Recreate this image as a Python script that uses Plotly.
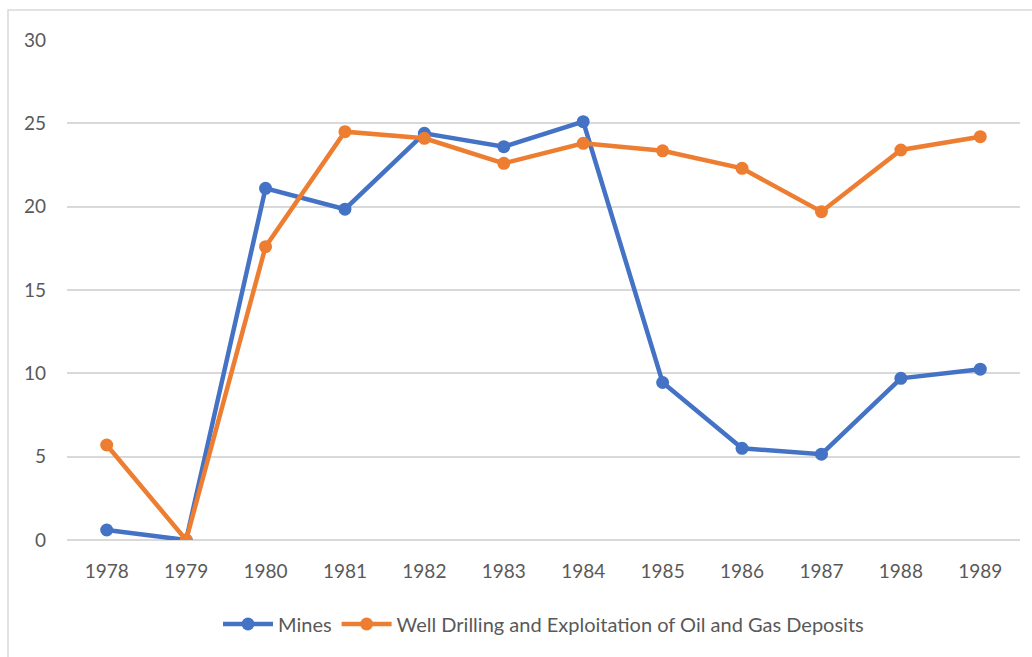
import plotly.graph_objects as go

years = ["1978", "1979", "1980", "1981", "1982", "1983", "1984", "1985", "1986", "1987", "1988", "1989"]
mines = [0.6, 0.0, 21.1, 19.85, 24.4, 23.6, 25.1, 9.45, 5.5, 5.15, 9.7, 10.25]
wells = [5.7, 0.0, 17.6, 24.5, 24.1, 22.6, 23.8, 23.35, 22.3, 19.7, 23.4, 24.2]

W, H = 1032, 657
L, R, T, B = 67, 12, 40, 117
pw, ph = W - L - R, H - T - B

fig = go.Figure()
fig.add_trace(go.Scatter(x=years, y=mines, name="Mines", mode="lines+markers",
                         line=dict(color="#4472C4", width=4.5), marker=dict(size=13, color="#4472C4")))
fig.add_trace(go.Scatter(x=years, y=wells, name="Well Drilling and Exploitation of Oil and Gas Deposits",
                         mode="lines+markers",
                         line=dict(color="#ED7D31", width=4.5), marker=dict(size=13, color="#ED7D31")))

fig.update_layout(
    width=W, height=H,
    margin=dict(l=L, r=R, t=T, b=B, autoexpand=False),
    paper_bgcolor="white", plot_bgcolor="white",
    font=dict(family="Lato, Open Sans, sans-serif", size=19, color="#595959"),
    showlegend=True,
    legend=dict(orientation="h", x=0.5, xanchor="center", y=-0.168, yanchor="middle",
                font=dict(size=20, color="#595959"), itemwidth=50),
    xaxis=dict(type="category", range=[-0.5, 11.5], showgrid=False, showline=False, ticks="",
               tickfont=dict(size=19), automargin=False, ticklabelstandoff=18),
    yaxis=dict(range=[0, 30], dtick=5, showgrid=True, gridcolor="#D9D9D9", gridwidth=1.5,
               zeroline=True, zerolinecolor="#D9D9D9", zerolinewidth=1.5,
               showline=False, ticks="", tickfont=dict(size=19), ticklabelstandoff=20,
               automargin=False),
    shapes=[dict(type="rect", xref="paper", yref="paper",
                 x0=(8 - L) / pw, x1=(W + 20 - L) / pw,
                 y0=(H - B - (H + 20)) / ph, y1=(H - B - 10) / ph,
                 line=dict(color="#D9D9D9", width=1.5), layer="below")],
)

fig.write_html("out.html", config={"displayModeBar": False},
               post_script="document.body.style.margin='0';document.body.style.overflow='hidden';")
